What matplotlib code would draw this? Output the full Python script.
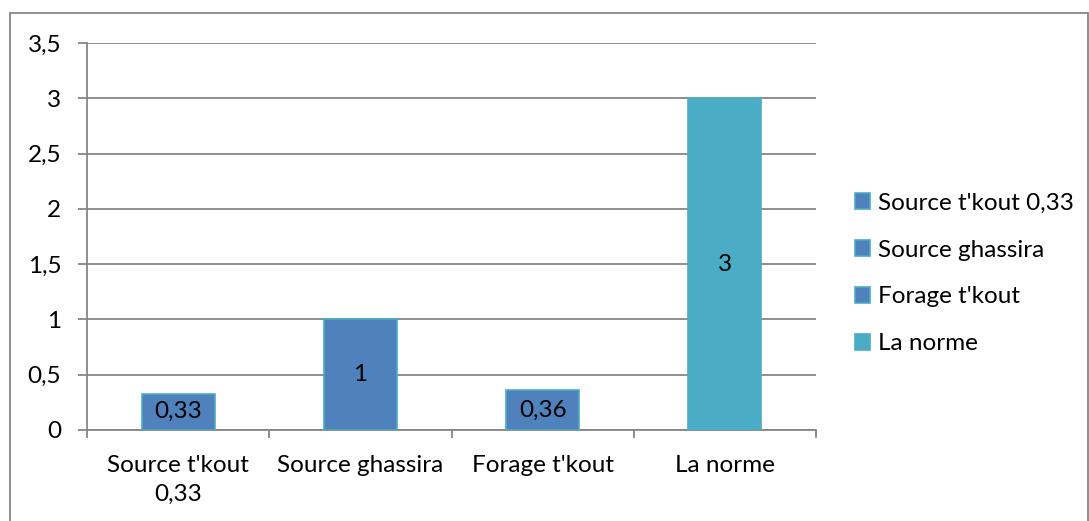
import matplotlib.pyplot as plt
from matplotlib.patches import Rectangle, Patch

categories = ["Source t'kout\n0,33", "Source ghassira", "Forage t'kout", "La norme"]
legend_labels = ["Source t'kout 0,33", "Source ghassira", "Forage t'kout", "La norme"]
values = [0.33, 1, 0.36, 3]
value_labels = ["0,33", "1", "0,36", "3"]
y_ticks = [0, 0.5, 1, 1.5, 2, 2.5, 3, 3.5]
y_tick_labels = ["0", "0,5", "1", "1,5", "2", "2,5", "3", "3,5"]

blue = '#4F81BD'
aqua = '#4BACC6'
grey = '#868686'
bar_colors = [blue, blue, blue, aqua]
fs = 17.5

plt.rcParams['font.family'] = ['Lato', 'DejaVu Sans']

fig = plt.figure(figsize=(10.89, 5.21), dpi=100)
ax = fig.add_axes([87 / 1089, 1 - 430 / 521, (816 - 87) / 1089, (430 - 43) / 521])

x = range(len(values))
bars = ax.bar(x, values, width=0.4, color=bar_colors, edgecolor=aqua, linewidth=1.2, zorder=3)
ax.bar_label(bars, labels=value_labels, label_type='center', fontsize=fs, color='black')

ax.set_xlim(-0.5, 3.5)
ax.set_ylim(0, 3.5)
ax.set_yticks(y_ticks)
ax.set_yticklabels(y_tick_labels, fontsize=fs)
ax.set_xticks(list(x))
ax.set_xticklabels(categories, fontsize=fs, linespacing=1.45)
ax.set_xticks([-0.5, 0.5, 1.5, 2.5, 3.5], minor=True)
ax.tick_params(axis='x', which='major', length=0, pad=18)
ax.tick_params(axis='x', which='minor', length=6, color=grey, width=1.3, direction='out')
ax.tick_params(axis='y', length=6.5, color=grey, width=1.3, direction='out', pad=12)

ax.grid(axis='y', color=grey, linewidth=1.3, zorder=0)
ax.set_axisbelow(True)
for side in ['top', 'right']:
    ax.spines[side].set_visible(False)
for side in ['left', 'bottom']:
    ax.spines[side].set_color(grey)
    ax.spines[side].set_linewidth(1.3)

handles = [Patch(facecolor=c, edgecolor=aqua, linewidth=1.2) for c in bar_colors]
fig.legend(handles, legend_labels, loc='center left',
           bbox_to_anchor=(855 / 1089, 1 - 273.5 / 521), frameon=False,
           fontsize=fs, labelspacing=1.06, handlelength=0.63, handleheight=0.63,
           handletextpad=0.3, borderaxespad=0, borderpad=0)

# chart area border
fig.patches.append(Rectangle((10 / 1089, -0.1), (1087.5 - 10) / 1089, 1.1 - 13 / 521,
                             transform=fig.transFigure, fill=False,
                             edgecolor=grey, linewidth=1.3))

fig.savefig('out.png', dpi=100)
